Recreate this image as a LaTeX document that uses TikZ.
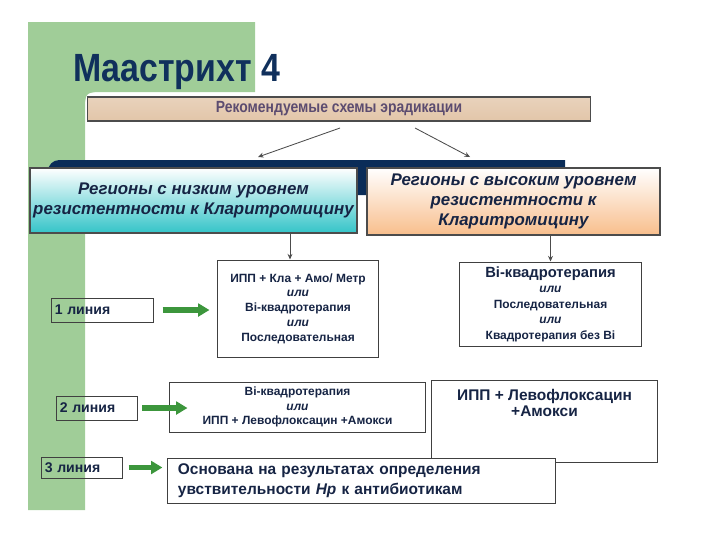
\documentclass[tikz,border=0pt]{standalone}
\usepackage{fontspec}
\setmainfont{Liberation Sans}
\newfontfamily\narrowfont{Liberation Sans}[FakeStretch=0.86]
\usetikzlibrary{arrows.meta,positioning}

\definecolor{slidegreen}{RGB}{160,205,152}
\definecolor{titlenavy}{RGB}{16,48,92}
\definecolor{textnavy}{RGB}{22,36,68}
\definecolor{bannertext}{RGB}{92,76,112}
\definecolor{barnavy}{RGB}{10,44,88}
\definecolor{lowteal}{RGB}{52,196,200}
\definecolor{highpeach}{RGB}{248,190,140}
\definecolor{arrowgreen}{RGB}{60,150,60}

\tikzset{
  regionbox/.style={draw=black!70, line width=0.9pt, align=center, text=textnavy,
    font=\bfseries\itshape\fontsize{12}{14}\selectfont, inner sep=2pt},
  schemebox/.style={draw=black!75, line width=0.7pt, fill=white, align=center, text=textnavy,
    font=\bfseries\fontsize{8.5}{10.5}\selectfont, inner sep=2pt},
  linebox/.style={draw=black!75, line width=0.7pt, text=textnavy, align=left,
    font=\bfseries\fontsize{10}{12}\selectfont, inner xsep=2pt, inner ysep=0pt},
  thinarrow/.style={draw=black!70, line width=0.6pt, -{Stealth[length=4pt,width=3.5pt]}},
  greenarrow/.style={draw=arrowgreen, line width=3.6pt, -{Triangle[length=8pt,width=9pt]}},
}

\begin{document}
\begin{tikzpicture}[x=0.025cm, y=-0.025cm]
\useasboundingbox (0,0) rectangle (720,540);

% green slide background
\fill[slidegreen] (28,22) -- (255,22) -- (255,92) -- (105,92) .. controls (85,92) .. (85,112) -- (85,510) -- (28,510) -- cycle;

% title and banner
\node[anchor=west, inner sep=0pt, text=titlenavy, font=\narrowfont\bfseries\fontsize{28}{30}\selectfont] (title) at (73,72) {Маастрихт 4};
\node[draw=black!70, line width=0.8pt, top color=brown!35!white, middle color=orange!6!white, bottom color=brown!45!white,
  minimum width=12.55cm, minimum height=0.6cm, inner sep=0pt, text=bannertext,
  font=\narrowfont\bfseries\fontsize{11.5}{13}\selectfont] (banner) at (339,109) {Рекомендуемые схемы эрадикации};

\coordinate (splitl) at (340,128);
\coordinate (lowtip) at (258,157);
\coordinate (splitr) at (415,128);
\coordinate (hightip) at (470,157);
\draw[thinarrow] (splitl) -- (lowtip);
\draw[thinarrow] (splitr) -- (hightip);

% navy bar behind the region boxes
\fill[barnavy] (565,160) [rounded corners=8pt] -- (48,160) -- (48,195) [sharp corners] -- (565,195) -- cycle;

% regions
\node[regionbox, top color=white, bottom color=lowteal, minimum width=8.175cm, minimum height=1.625cm] (reglow) at (193.5,200.5)
  {Регионы с низким уровнем\\резистентности к Кларитромицину};
\node[regionbox, top color=white, bottom color=highpeach, minimum width=7.325cm, minimum height=1.675cm] (reghigh) at (513.5,201.5)
  {Регионы с высоким уровнем\\резистентности к\\Кларитромицину};

% first line
\node[schemebox, minimum width=4cm, minimum height=2.425cm] (b1) at (298,308.5)
  {ИПП + Кла + Амо/ Метр\\\textit{или}\\Bi-квадротерапия\\\textit{или}\\Последовательная};
\node[schemebox, minimum width=4.525cm, minimum height=2.1cm, font=\bfseries\fontsize{8.5}{11}\selectfont] (c1) at (550.5,304)
  {{\fontsize{10.5}{13}\selectfont Bi-квадротерапия}\\\textit{или}\\Последовательная\\\textit{или}\\Квадротерапия без Bi};

\draw[thinarrow] (reglow.south -| 290,0) -- (b1.north -| 290,0);
\draw[thinarrow] (reghigh.south -| c1.north) -- (c1.north);

% second line
\node[schemebox, minimum width=6.375cm, minimum height=1.25cm] (b2) at (297.5,407)
  {Bi-квадротерапия\\\textit{или}\\ИПП + Левофлоксацин +Амокси};
\node[schemebox, minimum width=5.625cm, minimum height=2.05cm] (c2) at (544.5,421) {};
\node[below=0.225cm of c2.north, inner sep=0pt, align=center, text=textnavy,
  font=\bfseries\fontsize{11}{11.5}\selectfont] (c2txt) {ИПП + Левофлоксацин\\+Амокси};

% third line
\node[schemebox, minimum width=9.675cm, minimum height=1.125cm, align=left, inner xsep=0.25cm, text width=9.175cm,
  font=\bfseries\fontsize{11}{14}\selectfont] (b3) at (361.5,480.5)
  {Основана на результатах определения\\увствительности \textit{Hp} к антибиотикам};

% line labels
\node[linebox, text width=2.385cm, minimum height=0.6cm] (l1) at (102.5,310) {1 линия};
\node[linebox, text width=1.86cm, minimum height=0.6cm] (l2) at (97,408) {2 линия};
\node[linebox, text width=1.86cm, minimum height=0.525cm] (l3) at (82,467.5) {3 линия};

\draw[greenarrow, shorten <=6.4pt, shorten >=5.7pt] (l1.east) -- (l1.east -| b1.west);
\draw[greenarrow, shorten <=3.5pt, shorten >=-12.8pt] (l2.east) -- (l2.east -| b2.west);
\draw[greenarrow, shorten <=4.3pt, shorten >=3.6pt] (l3.east) -- (l3.east -| b3.west);

\end{tikzpicture}
\end{document}
